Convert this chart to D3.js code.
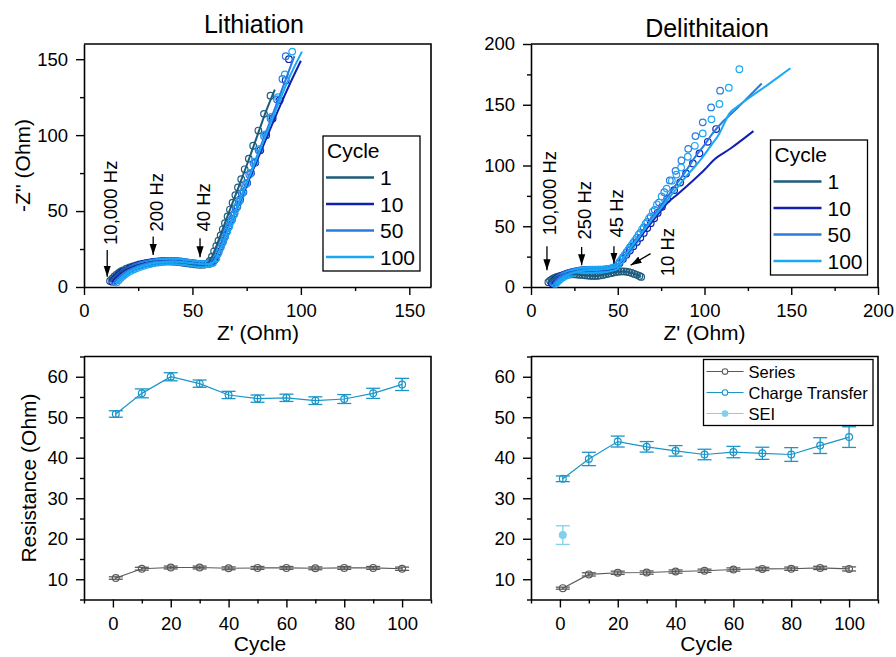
<!DOCTYPE html>
<html lang="en">
<head>
<meta charset="UTF-8">
<title>EIS</title>
<script src="https://cdn.jsdelivr.net/npm/d3@7"></script>
<style>
  body{margin:0;background:#fff;}
  svg{font-family:"Liberation Sans",Arial,sans-serif;}
</style>
</head>
<body>
<script>
// ---- Nyquist data, lithiation ----
var cycles=["1","10","50","100"];
var cycleColors=["#1d5b7c","#1020b0","#2a7ae0","#1aa8f5"];

var lith1=[[12,4],[13,5.5],[14,7],[15,8.2],[16,9.3],[17,10.2],[18,11],[19.5,12],[21,12.9],[22.5,13.6],[24,14.2],[25.5,14.8],[27,15.3],[28.5,15.7],[30,16],[31.5,16.3],[33,16.5],[34.5,16.7],[36,16.8],[37.5,16.9],[39,16.9],[40.5,16.8],[42,16.6],[43.5,16.4],[45,16.1],[46.5,15.8],[48,15.5],[49.5,15.2],[51,14.9],[52.5,14.7],[54,14.6],[55.5,14.8],[57,15.6],[58,17.2],[59,20],[60,23.5],[61,27],[62,30.5],[63,34],[64,38],[65,42],[66.2,46.5],[67.3,51],[68.5,55.5],[69.8,60.5],[71,65.5],[72.5,71],[74.1,77.5],[76,84.5],[78,93],[80.4,103],[83,114],[86,126]];
var lith10=[[13,3.5],[14,5],[15,6.5],[16,7.8],[17,8.9],[18,9.9],[19.5,11],[21,12.1],[22.5,13],[24,13.8],[25.5,14.5],[27,15.1],[28.5,15.6],[30,16],[31.5,16.4],[33,16.7],[34.5,16.9],[36,17.1],[37.5,17.2],[39,17.2],[40.5,17.2],[42,17.1],[43.5,16.9],[45,16.7],[46.5,16.4],[48,16.1],[49.5,15.8],[51,15.5],[52.5,15.2],[54,15],[55.5,14.9],[57,15.1],[58.5,15.8],[60,17.5],[61,20],[62,23],[63,26.5],[64,30],[65,33.5],[66,37],[67,40.5],[68.2,44.5],[69.4,48.5],[70.7,53],[72,57.5],[73.5,62.5],[75.2,68.5],[77,75],[79,82],[81.3,90],[84,100],[87,111],[90.2,123],[93,136],[94.5,150]];
var lith50=[[14,3.5],[15,5],[16,6.5],[17,7.8],[18,8.9],[19,9.9],[20.5,11],[22,12.1],[23.5,13],[25,13.8],[26.5,14.5],[28,15.1],[29.5,15.6],[31,16],[32.5,16.4],[34,16.7],[35.5,16.9],[37,17.1],[38.5,17.2],[40,17.2],[41.5,17.1],[43,17],[44.5,16.8],[46,16.5],[47.5,16.2],[49,15.9],[50.5,15.6],[52,15.3],[53.5,15.1],[55,15],[56.5,15],[58,15.3],[59,16],[60.5,18.5],[61.5,21.5],[62.5,25],[63.5,28.5],[64.5,32],[65.5,35.5],[66.5,39],[67.6,43],[68.8,47],[70,51.5],[71.3,56],[72.8,61.5],[74.4,67.5],[76.2,74],[78.2,81.5],[80.5,90],[83,99.5],[86,111],[89,123.5],[91.5,137],[93,152]];
var lith100=[[15,3],[16,4.5],[17,6],[18,7.3],[19,8.4],[20,9.4],[21.5,10.6],[23,11.6],[24.5,12.5],[26,13.3],[27.5,14],[29,14.6],[30.5,15.1],[32,15.6],[33.5,16],[35,16.3],[36.5,16.5],[38,16.7],[39.5,16.8],[41,16.8],[42.5,16.7],[44,16.6],[45.5,16.4],[47,16.2],[48.5,15.9],[50,15.6],[51.5,15.3],[53,15.1],[54.5,15],[56,15],[57.5,15.2],[59.5,16],[61,19],[62,22.5],[63,26],[64,29.5],[65,33],[66,36.5],[67,40],[68.1,44],[69.3,48],[70.5,52.5],[71.8,57],[73.3,62.5],[75,68.5],[76.8,75],[78.8,82.5],[81,91],[83.5,100.5],[86.3,112],[89.5,125],[92.6,140],[96,155]];

var lithFit1=[[12,4],[16,9.3],[22,13.4],[30,16],[38,16.9],[46,15.9],[54,14.6],[57,15.6],[59,20],[62,30.5],[66,46],[70,61],[75,80],[80,100],[84,116],[88,130]];
var lithFit10=[[13,3.5],[17,8.9],[24,13.8],[32,16.6],[40,17.2],[48,16.1],[55,14.9],[58.5,15.8],[61,20],[65,33],[70,50],[75,67],[80,84],[85,101],[90,118],[95,134],[100,149]];
var lithFit50=[[14,3.5],[18,8.9],[25,13.8],[33,16.6],[41,17.1],[49,15.9],[56,15],[59,16],[62,23],[65,33.5],[70,51],[75,69],[80,87],[85,106],[90,125],[97,152]];
var lithFit100=[[15,3],[19,8.4],[26,13.3],[34,16.2],[42,16.7],[50,15.6],[56,15],[59.5,16],[62,22.5],[65,32.5],[70,50],[75,68],[80,86],[85,104],[90,122],[95,139],[100.5,155]];

// ---- Nyquist data, delithiation ----
var deli1=[[10,4],[11,5.2],[12,6.2],[13,7],[14,7.7],[15,8.3],[16,8.8],[17.5,9.4],[19,9.8],[20.5,10.1],[22,10.3],[23.5,10.4],[25,10.4],[26.5,10.3],[28,10.1],[29.5,9.9],[31,9.6],[32.5,9.4],[34,9.2],[35.5,9.1],[37,9.1],[38.5,9.2],[40,9.5],[41.5,9.9],[43,10.4],[44.5,10.9],[46,11.4],[47.5,11.9],[49,12.3],[50.5,12.6],[52,12.8],[53.5,12.8],[55,12.6],[56.5,12.2],[58,11.6],[59.5,10.8],[61,10],[62.5,9.1],[63.5,8.3]];
var deli10=[[12,3],[13,4.5],[14,5.8],[15,7],[16,8],[17.5,9.2],[19,10.2],[20.5,11],[22,11.7],[23.5,12.2],[25,12.7],[26.5,13.1],[28,13.4],[29.5,13.6],[31,13.7],[32.5,13.8],[34,13.8],[35.5,13.8],[37,13.7],[38.5,13.7],[40,13.7],[41.5,13.8],[43,14],[44.5,14.3],[46,14.8],[47.5,15.5],[49,16.5],[51,19.5],[53,23],[55,26.5],[57,30],[59,33.5],[61,37],[63,40.5],[65,44.5],[67,48.5],[69,52.5],[71,56.5],[73,61],[75.5,66],[78.5,72.5],[82.5,79.7],[86,86],[89.4,93.4],[93.3,101.7],[97.1,110],[101.9,119.5],[106.7,130]];
var deli50=[[13,3],[14,4.6],[15,6],[16,7.2],[17.5,8.6],[19,9.7],[20.5,10.6],[22,11.4],[23.5,12],[25,12.6],[26.5,13.1],[28,13.5],[29.5,13.8],[31,14],[32.5,14.1],[34,14.2],[35.5,14.2],[37,14.2],[38.5,14.2],[40,14.2],[41.5,14.3],[43,14.5],[44.5,14.8],[46,15.2],[47.5,15.9],[49,17],[51,20.5],[53,24.5],[55,28.5],[57,32.5],[59,36.5],[61,40.5],[63,44.5],[65,49],[67,53.5],[69,58],[71.3,63.5],[73.8,69.5],[76.8,78],[80,87.7],[83.3,95.6],[86.7,104.2],[90.6,113.7],[94.8,124.2],[99,135.5],[103.8,147.8],[109,161.6]];
var deli100=[[14,2.5],[15,4],[16,5.4],[17,6.6],[18.5,8],[20,9.2],[21.5,10.2],[23,11],[24.5,11.7],[26,12.3],[27.5,12.8],[29,13.2],[30.5,13.5],[32,13.7],[33.5,13.9],[35,14],[36.5,14.1],[38,14.1],[39.5,14.2],[41,14.3],[42.5,14.5],[44,14.8],[45.5,15.2],[47,15.8],[48.5,16.6],[50,18.5],[52,22.5],[54,26.5],[56,30.5],[58,34.5],[60,38.5],[62,43],[64,47.5],[66,52],[68,56.5],[70.2,62],[72.6,68],[75.3,74.5],[78.2,81],[81.2,87.5],[83.8,92.5],[86.5,98.4],[90.4,107.2],[94.4,116.2],[99,126.4],[104,138],[108.6,150.6],[114,164],[120.1,179.2]];

var deliFit1=[[10,4],[14,7.7],[20,10],[25,10.4],[31,9.6],[37,9.1],[43,10.4],[50,12.5],[54,12.8],[58,11.6],[63.5,8.3]];
var deliFit10=[[12,3],[16,8],[22,11.7],[30,13.6],[38,13.7],[45,14.5],[49,16.6],[55,27],[60,36],[65,45],[70,54],[75,63],[78.3,68.7],[85,77],[93.6,87.9],[100,96.5],[105.2,104.4],[115,114],[128.2,128.3]];
var deliFit50=[[13,3],[17,8.5],[23,12],[30,13.9],[38,14.2],[45,15],[49,16.8],[55,27.5],[60,37],[65,47],[70,57],[75,67],[80,77],[85,87],[90,97],[93.3,104.4],[100,117],[105,127],[110.5,136],[118,146],[125,156],[133,167.5]];
var deliFit100=[[14,2.5],[18,7.5],[24,11.4],[31,13.6],[39,14.2],[46,15.4],[49,16.8],[55,27.5],[60,37],[65,46.5],[70,56],[75,65],[80,74],[85,83],[90,92],[95,100],[99,107],[104,117],[108.6,126.4],[111.5,135],[114.4,142.9],[119,148.5],[124,153.9],[137,167],[149.5,180]];

// frequency markers
var lithNoteText=["10,000 Hz","200 Hz","40 Hz"];
var lithNoteX=[10.7,31.9,53.5];
var lithNoteTip=[6.8,21.1,19.6];
var lithNoteTail=[24.4,33.2,32.1];
var lithNoteTextY=[27.7,36.5,36.5];
var deliNoteText=["10,000 Hz","250 Hz","45 Hz"];
var deliNoteX=[9.2,29.2,47.8];
var deliNoteTip=[13.8,17.9,19.3];
var deliNoteTail=[33.5,33,33.5];
var deliNoteTextY=[42.6,39,40.7];

// ---- fitted resistances ----
var cycleNo=[1,10,20,30,40,50,60,70,80,90,100];
var lithSeries=[10.3,12.6,12.9,12.9,12.7,12.8,12.8,12.7,12.8,12.8,12.6];
var lithSeriesErr=[0.3,0.35,0.35,0.35,0.35,0.35,0.35,0.35,0.35,0.35,0.4];
var lithCT=[50.8,55.9,60.0,58.3,55.5,54.6,54.8,54.1,54.5,55.9,58.1];
var lithCTErr=[0.8,1.1,1.0,0.9,0.9,0.9,0.9,0.95,1.1,1.25,1.5];
var deliSeries=[7.8,11.2,11.6,11.65,11.9,12.1,12.4,12.55,12.6,12.8,12.55];
var deliSeriesErr=[0.25,0.4,0.4,0.4,0.4,0.4,0.4,0.4,0.4,0.4,0.5];
var deliCT=[34.8,39.7,44.0,42.7,41.7,40.8,41.4,41.1,40.8,43.0,45.1];
var deliCTErr=[0.7,1.65,1.35,1.3,1.3,1.3,1.4,1.5,1.7,1.95,2.55];
var seiCycle=[1];
var deliSEI=[20.9];
var deliSEIErr=[2.3];

var seriesColor="#5a5a5a", ctColor="#1a95c8", seiColor="#82d0ec";

var W=896,H=657;
var pw=347,ph=243;
var svg=d3.select("body").append("svg").attr("width",W).attr("height",H);

svg.append("defs").append("marker")
    .attr("id","arr").attr("viewBox","0 -4 11 8")
    .attr("refX",11).attr("refY",0)
    .attr("markerUnits","userSpaceOnUse")
    .attr("markerWidth",11).attr("markerHeight",8)
    .attr("orient","auto")
  .append("path").attr("d","M0,-3.6L11,0L0,3.6Z").attr("fill","#000");

// draws box, ticks and labels, returns inner group
function panel(left,top,x,y,xMajor,xMinor,yMajor,yMinor){
    var g=svg.append("g").attr("transform","translate("+left+","+top+")");
    var ax=g.append("g").attr("transform","translate(0,"+ph+")")
        .call(d3.axisBottom(x).tickValues(xMajor).tickSize(8).tickSizeOuter(0).tickPadding(9));
    g.append("g").attr("transform","translate(0,"+ph+")")
        .call(d3.axisBottom(x).tickValues(xMinor).tickSize(4).tickFormat(""))
        .select(".domain").remove();
    var ay=g.append("g")
        .call(d3.axisLeft(y).tickValues(yMajor).tickSize(8).tickSizeOuter(0).tickPadding(8));
    g.append("g")
        .call(d3.axisLeft(y).tickValues(yMinor).tickSize(4).tickFormat(""))
        .select(".domain").remove();
    [ax,ay].forEach(function(a){
        a.attr("font-size",18.5).attr("font-family",null);
        a.selectAll("text").attr("fill","#000");
    });
    g.selectAll(".tick line").attr("stroke","#000").attr("stroke-width",1.4);
    g.selectAll(".domain").attr("stroke","#000").attr("stroke-width",1.6);
    g.append("path").attr("d","M0,0H"+pw+"V"+ph)
        .attr("fill","none").attr("stroke","#000").attr("stroke-width",1.6);
    return g;
}

function nyquist(g,x,y,data,fits){
    var line=d3.line().x(function(d){return x(d[0]);}).y(function(d){return y(d[1]);}).curve(d3.curveMonotoneX);
    data.forEach(function(pts,i){
        g.append("g").selectAll("circle").data(pts).enter().append("circle")
            .attr("cx",function(d){return x(d[0]);})
            .attr("cy",function(d){return y(d[1]);})
            .attr("r",3.3)
            .attr("fill","none")
            .attr("stroke",cycleColors[i])
            .attr("stroke-width",1.2);
    });
    fits.forEach(function(pts,i){
        g.append("path").datum(pts).attr("d",line)
            .attr("fill","none").attr("stroke",cycleColors[i]).attr("stroke-width",2);
    });
}

function notes(g,x,y,txt,nx,tip,tail,ty){
    txt.forEach(function(t,i){
        g.append("line")
            .attr("x1",x(nx[i])).attr("x2",x(nx[i]))
            .attr("y1",y(tail[i])).attr("y2",y(tip[i]))
            .attr("stroke","#000").attr("stroke-width",1.3)
            .attr("marker-end","url(#arr)");
        g.append("text")
            .attr("transform","translate("+(x(nx[i])+3)+","+y(ty[i])+") rotate(-90)")
            .attr("dy","0.35em").attr("font-size",18.5).text(t);
    });
}

function cycleLegend(g,bx,by){
    var lg=g.append("g").attr("transform","translate("+bx+","+by+")");
    lg.append("rect").attr("width",97).attr("height",135)
        .attr("fill","#fff").attr("stroke","#000").attr("stroke-width",1.3);
    lg.append("text").attr("x",4).attr("y",22).attr("font-size",21).text("Cycle");
    cycles.forEach(function(c,i){
        var yy=41.5+i*26.5;
        lg.append("line").attr("x1",3).attr("x2",51).attr("y1",yy).attr("y2",yy)
            .attr("stroke",cycleColors[i]).attr("stroke-width",2.5);
        lg.append("text").attr("x",57).attr("y",yy+7.5).attr("font-size",21).text(c);
    });
}

// ---------- top left: Lithiation ----------
var x1=d3.scaleLinear().domain([0,160]).range([0,pw]);
var y1=d3.scaleLinear().domain([0,160]).range([ph,0]);
var g1=panel(84,44,x1,y1,[0,50,100,150],[25,75,125],[0,50,100,150],[25,75,125]);
nyquist(g1,x1,y1,[lith1,lith10,lith50,lith100],[lithFit1,lithFit10,lithFit50,lithFit100]);
notes(g1,x1,y1,lithNoteText,lithNoteX,lithNoteTip,lithNoteTail,lithNoteTextY);
cycleLegend(g1,239,92);

// ---------- top right: Delithiation ----------
var x2=d3.scaleLinear().domain([0,200]).range([0,pw]);
var y2=d3.scaleLinear().domain([0,200]).range([ph,0]);
var g2=panel(531,44,x2,y2,[0,50,100,150,200],[25,75,125,175],[0,50,100,150,200],[25,75,125,175]);
nyquist(g2,x2,y2,[deli1,deli10,deli50,deli100],[deliFit1,deliFit10,deliFit50,deliFit100]);
notes(g2,x2,y2,deliNoteText,deliNoteX,deliNoteTip,deliNoteTail,deliNoteTextY);
g2.append("line")
    .attr("x1",x2(68.9)).attr("y1",y2(27.5)).attr("x2",x2(57.4)).attr("y2",y2(17.9))
    .attr("stroke","#000").attr("stroke-width",1.3).attr("marker-end","url(#arr)");
g2.append("text")
    .attr("transform","translate("+x2(78.9)+","+y2(8.8)+") rotate(-90)")
    .attr("dy","0.35em").attr("font-size",18.5).text("10 Hz");
cycleLegend(g2,239.5,96);

// ---------- bottom: resistances ----------
function resPanel(left,series,seriesErr,ct,ctErr,withSei){
    var x=d3.scaleLinear().domain([-10,110]).range([0,pw]);
    var y=d3.scaleLinear().domain([5,65]).range([ph,0]);
    var g=panel(left,356.5,x,y,[0,20,40,60,80,100],[-10,10,30,50,70,90,110],[10,20,30,40,50,60],[5,15,25,35,45,55,65]);
    function drawSet(xs,vals,errs,color,filled,lineW,joined){
        if(joined){
            g.append("path").datum(vals)
                .attr("d",d3.line().x(function(d,i){return x(xs[i]);}).y(function(d){return y(d);}))
                .attr("fill","none").attr("stroke",color).attr("stroke-width",lineW);
        }
        var e=g.append("g").selectAll("g").data(vals).enter().append("g")
            .attr("stroke",color).attr("stroke-width",1.3);
        e.append("line")
            .attr("x1",function(d,i){return x(xs[i]);}).attr("x2",function(d,i){return x(xs[i]);})
            .attr("y1",function(d,i){return y(d-errs[i]);}).attr("y2",function(d,i){return y(d+errs[i]);});
        [-1,1].forEach(function(s){
            e.append("line")
                .attr("x1",function(d,i){return x(xs[i])-7;}).attr("x2",function(d,i){return x(xs[i])+7;})
                .attr("y1",function(d,i){return y(d+s*errs[i]);}).attr("y2",function(d,i){return y(d+s*errs[i]);});
        });
        g.append("g").selectAll("circle").data(vals).enter().append("circle")
            .attr("cx",function(d,i){return x(xs[i]);}).attr("cy",function(d){return y(d);})
            .attr("r",3.4)
            .attr("fill",filled?color:"none")
            .attr("stroke",color).attr("stroke-width",1.2);
    }
    drawSet(cycleNo,series,seriesErr,seriesColor,false,1.1,true);
    drawSet(cycleNo,ct,ctErr,ctColor,false,1.2,true);
    if(withSei) drawSet(seiCycle,deliSEI,deliSEIErr,seiColor,true,1.2,false);
    return g;
}
var g3=resPanel(84,lithSeries,lithSeriesErr,lithCT,lithCTErr,false);
var g4=resPanel(531,deliSeries,deliSeriesErr,deliCT,deliCTErr,true);

// legend for resistance panel
var resNames=["Series","Charge Transfer","SEI"];
var resColors=[seriesColor,ctColor,seiColor];
var lg=g4.append("g").attr("transform","translate(172.5,3)");
lg.append("rect").attr("width",169.5).attr("height",66)
    .attr("fill","#fff").attr("stroke","#000").attr("stroke-width",1.3);
resNames.forEach(function(n,i){
    var yy=12+i*21;
    lg.append("line").attr("x1",3).attr("x2",40).attr("y1",yy).attr("y2",yy)
        .attr("stroke",resColors[i]).attr("stroke-width",1.2);
    lg.append("circle").attr("cx",21.5).attr("cy",yy).attr("r",2.8)
        .attr("fill",i==2?resColors[i]:"#fff").attr("stroke",resColors[i]).attr("stroke-width",1.1);
    lg.append("text").attr("x",45).attr("y",yy+6).attr("font-size",16.5).text(n);
});

// ---------- titles and axis labels ----------
svg.append("text").attr("x",254).attr("y",33).attr("text-anchor","middle").attr("font-size",25).text("Lithiation");
svg.append("text").attr("x",707).attr("y",36.5).attr("text-anchor","middle").attr("font-size",25).text("Delithitaion");
[258,704.5].forEach(function(cx){
    svg.append("text").attr("x",cx).attr("y",340).attr("text-anchor","middle").attr("font-size",21).text("Z' (Ohm)");
    svg.append("text").attr("x",cx+2).attr("y",651).attr("text-anchor","middle").attr("font-size",21).text("Cycle");
});
svg.append("text").attr("transform","translate(23,165.5) rotate(-90)")
    .attr("dy","0.35em").attr("text-anchor","middle").attr("font-size",21).text("-Z'' (Ohm)");
svg.append("text").attr("transform","translate(29,478) rotate(-90)")
    .attr("dy","0.35em").attr("text-anchor","middle").attr("font-size",21).text("Resistance (Ohm)");
</script>
</body>
</html>
